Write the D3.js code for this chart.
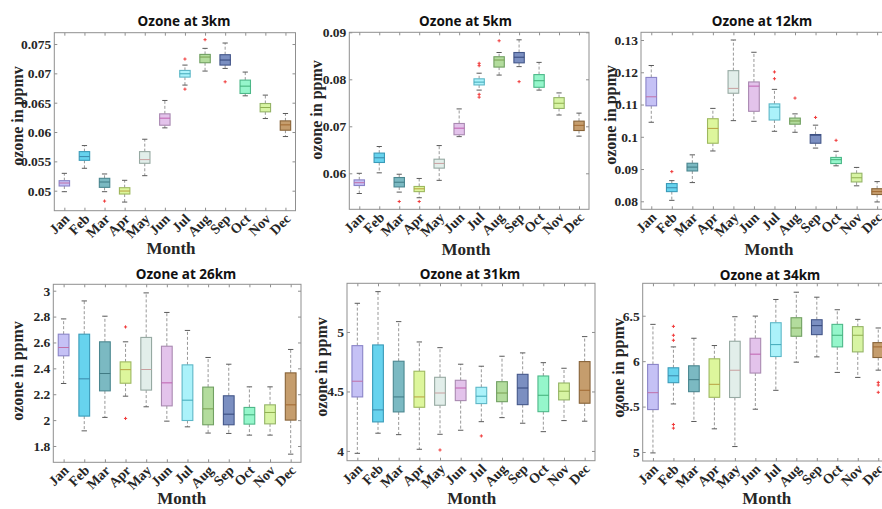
<!DOCTYPE html>
<html><head><meta charset="utf-8">
<script src="https://cdn.jsdelivr.net/npm/d3@7"></script>
<style>body{margin:0;background:#fff}svg{display:block}</style>
</head><body><svg id="c" width="882" height="509"></svg>
<script>
const months = ["Jan","Feb","Mar","Apr","May","Jun","Jul","Aug","Sep","Oct","Nov","Dec"];

// each row: [lower whisker, Q1, median, Q3, upper whisker]
const ozone3km = [
 [0.04983,0.0508,0.05131,0.05171,0.05296],
 [0.05382,0.05518,0.05581,0.05666,0.05769],
 [0.04983,0.05057,0.05148,0.05211,0.05285],
 [0.04806,0.04943,0.04994,0.05051,0.05177],
 [0.05256,0.05467,0.0553,0.05666,0.05877],
 [0.06071,0.06116,0.06236,0.0631,0.06538],
 [0.068,0.06936,0.06993,0.0705,0.07141],
 [0.07039,0.07181,0.07278,0.07323,0.07426],
 [0.07084,0.07141,0.07227,0.07318,0.07517],
 [0.06617,0.06657,0.06782,0.06885,0.07022],
 [0.0623,0.06344,0.06418,0.06486,0.06629],
 [0.05923,0.06031,0.06122,0.0619,0.06316]
];
const outliers3km = [[3,0.04823],[7,0.07244],[7,0.06731],[8,0.07574],[9,0.06856]];
const ticks3km = [0.05,0.055,0.06,0.065,0.07,0.075];
const tickLabels3km = ["0.05","0.055","0.06","0.065","0.07","0.075"];

const ozone5km = [
 [0.0557,0.0574,0.0580,0.0586,0.0600],
 [0.0601,0.0623,0.0633,0.0643,0.0657],
 [0.0560,0.0571,0.0581,0.0591,0.0598],
 [0.0548,0.0561,0.0567,0.0572,0.0589],
 [0.0585,0.0611,0.0621,0.0630,0.0659],
 [0.0678,0.0682,0.0696,0.0706,0.0737],
 [0.0777,0.0788,0.0794,0.0801,0.0813],
 [0.0809,0.0826,0.0841,0.0848,0.0857],
 [0.0827,0.0835,0.0847,0.0857,0.0884],
 [0.0777,0.0783,0.0797,0.0810,0.0836],
 [0.0724,0.0738,0.0749,0.0761,0.0771],
 [0.0679,0.0691,0.0702,0.0711,0.0728]
];
const outliers5km = [[3,0.0540],[4,0.0540],[7,0.0834],[7,0.0829],[7,0.0768],[7,0.0762],[8,0.0882],[9,0.0795]];
const ticks5km = [0.06,0.07,0.08,0.09];
const tickLabels5km = ["0.06","0.07","0.08","0.09"];

const ozone12km = [
 [0.1045,0.1096,0.1124,0.1184,0.1221],
 [0.0803,0.0830,0.0842,0.0855,0.0864],
 [0.0858,0.0894,0.0906,0.0918,0.0944],
 [0.0956,0.0980,0.1026,0.1056,0.1088],
 [0.1050,0.1135,0.1150,0.1205,0.1300],
 [0.1048,0.1079,0.1157,0.1170,0.1262],
 [0.1017,0.1052,0.1092,0.1102,0.1147],
 [0.1014,0.1039,0.1049,0.1058,0.1071],
 [0.0965,0.0980,0.1005,0.1007,0.1036],
 [0.0910,0.0917,0.0929,0.0936,0.0955],
 [0.0848,0.0860,0.0873,0.0887,0.0905],
 [0.0798,0.0821,0.0830,0.0839,0.0861]
];
const outliers12km = [[2,0.0892],[7,0.1201],[7,0.1180],[8,0.1120],[9,0.1060],[10,0.0989]];
const ticks12km = [0.08,0.09,0.1,0.11,0.12,0.13];
const tickLabels12km = ["0.08","0.09","0.1","0.11","0.12","0.13"];

const ozone26km = [
 [2.283,2.497,2.561,2.664,2.782],
 [1.917,2.031,2.319,2.664,2.921],
 [2.021,2.226,2.36,2.605,2.803],
 [2.185,2.285,2.39,2.45,2.605],
 [2.103,2.232,2.391,2.639,2.983],
 [1.992,2.110,2.288,2.571,2.832],
 [1.948,1.997,2.154,2.427,2.693],
 [1.90,1.964,2.087,2.255,2.484],
 [1.897,1.964,2.046,2.188,2.432],
 [1.884,1.969,2.041,2.098,2.257],
 [1.884,1.971,2.059,2.118,2.257],
 [1.737,2.0,2.118,2.365,2.546]
];
const outliers26km = [[4,2.72],[4,2.013]];
const ticks26km = [1.8,2,2.2,2.4,2.6,2.8,3];
const tickLabels26km = ["1.8","2","2.2","2.4","2.6","2.8","3"];

const ozone31km = [
 [3.98,4.454,4.586,4.885,5.241],
 [4.149,4.244,4.345,4.891,5.339],
 [4.137,4.328,4.454,4.754,5.087],
 [4.014,4.367,4.454,4.67,4.916],
 [4.140,4.384,4.487,4.619,4.868],
 [4.174,4.423,4.529,4.594,4.729],
 [4.246,4.398,4.46,4.535,4.712],
 [4.28,4.414,4.487,4.582,4.796],
 [4.233,4.389,4.529,4.644,4.824],
 [4.162,4.33,4.468,4.63,4.742],
 [4.255,4.429,4.502,4.571,4.695],
 [4.25,4.401,4.51,4.751,4.961]
];
const outliers31km = [[5,4.008],[7,4.126]];
const ticks31km = [4,4.5,5];
const tickLabels31km = ["4","4.5","5"];

const ozone34km = [
 [4.99,5.467,5.653,5.964,6.405],
 [5.529,5.763,5.839,5.927,6.157],
 [5.336,5.664,5.796,5.949,6.252],
 [5.255,5.602,5.745,6.026,6.172],
 [5.06,5.6,5.9,6.219,6.489],
 [5.471,5.869,6.077,6.252,6.496],
 [5.679,6.051,6.182,6.423,6.679],
 [5.989,6.274,6.365,6.478,6.759],
 [6.047,6.292,6.391,6.456,6.704],
 [5.876,6.157,6.285,6.405,6.566],
 [5.821,6.102,6.285,6.38,6.46],
 [5.901,6.04,6.157,6.204,6.365]
];
const outliers34km = [[2,6.383],[2,6.285],[2,6.23],[2,5.303],[2,5.263],[12,5.766],[12,5.737],[12,5.657]];
const ticks34km = [5,5.5,6,6.5];
const tickLabels34km = ["5","5.5","6","6.5"];

// styles
const fills  = ["#c5c1f5","#67d3ee","#7bb9c2","#ddf69c","#e2eeea","#e3c3eb","#abf2fa","#b3dc9d","#7b8fc1","#95f6cb","#d7f4a3","#c59d6d"];
const edges  = ["#8a84c8","#3a9bb8","#4b8790","#9db85f","#96a9a2","#a989b1","#5db7c7","#71a062","#44578a","#4db889","#95b467","#876338"];
const medCol = ["#c070a8","#3a88aa","#3f7a84","#b8a040","#c8a0a0","#c060b0","#40a8b8","#78a050","#34467a","#40b078","#90b050","#a06830"];

const panels = [
 {title:"Ozone at 3km", stats:ozone3km, out:outliers3km, ticks:ticks3km, labels:tickLabels3km, dom:[0.04659,0.07693],
  x0:54.3, x1:295.5, y0:32.7, y1:210.7, tx:184, ty:26, lx:17, ly:116, mx:171, my:254},
 {title:"Ozone at 5km", stats:ozone5km, out:outliers5km, ticks:ticks5km, labels:tickLabels5km, dom:[0.05234,0.09],
  x0:349.3, x1:589, y0:32.3, y1:209.3, tx:465.5, ty:26, lx:316, ly:110, mx:466, my:255},
 {title:"Ozone at 12km", stats:ozone12km, out:outliers12km, ticks:ticks12km, labels:tickLabels12km, dom:[0.07752,0.13239],
  x0:641, x1:887.4, y0:32.3, y1:209.3, tx:762, ty:26, lx:610, ly:115, mx:769, my:255},
 {title:"Ozone at 26km", stats:ozone26km, out:outliers26km, ticks:ticks26km, labels:tickLabels26km, dom:[1.674,3.0495],
  x0:53.3, x1:301, y0:284.3, y1:462.3, tx:186, ty:279, lx:17, ly:371, mx:181.7, my:504},
 {title:"Ozone at 31km", stats:ozone31km, out:outliers31km, ticks:ticks31km, labels:tickLabels31km, dom:[3.918,5.409],
  x0:347, x1:595, y0:283.3, y1:460.7, tx:470, ty:279, lx:321, ly:367, mx:471.7, my:504},
 {title:"Ozone at 34km", stats:ozone34km, out:outliers34km, ticks:ticks34km, labels:tickLabels34km, dom:[4.901,6.857],
  x0:642.7, x1:888.5, y0:283.3, y1:461, tx:770, ty:280, lx:618, ly:368, mx:766.7, my:504}
];

const svg = d3.select("#c");
const serif = "'Liberation Serif','Times New Roman',serif";
const sans = "'Noto Sans','Open Sans',sans-serif";
const axisCol = "#8f8f8f";

panels.forEach(p => {
  const x = d3.scaleLinear().domain([0.5, 12.5]).range([p.x0, p.x1]);
  const y = d3.scaleLinear().domain(p.dom).range([p.y1, p.y0]);
  const g = svg.append("g");
  const step = x(2) - x(1);
  const bw = step * 0.52;
  const cw = bw * 0.5;

  const yl = g.append("g").attr("transform", `translate(${p.x0},0)`)
    .call(d3.axisLeft(y).tickValues(p.ticks).tickFormat((d,i)=>p.labels[i]).tickSizeInner(-3).tickSizeOuter(0).tickPadding(3));
  const yr = g.append("g").attr("transform", `translate(${p.x1},0)`)
    .call(d3.axisRight(y).tickValues(p.ticks).tickFormat("").tickSizeInner(-3).tickSizeOuter(0));
  const xb = g.append("g").attr("transform", `translate(0,${p.y1})`)
    .call(d3.axisBottom(x).tickValues(d3.range(1,13)).tickFormat("").tickSizeInner(-3).tickSizeOuter(0));
  const xt = g.append("g").attr("transform", `translate(0,${p.y0})`)
    .call(d3.axisTop(x).tickValues(d3.range(1,13)).tickFormat("").tickSizeInner(-3).tickSizeOuter(0));
  [yl,yr,xb,xt].forEach(a => { a.select(".domain").remove(); a.selectAll("line").attr("stroke", axisCol); });
  yl.selectAll("text").attr("font-family", serif).attr("font-weight","bold").attr("font-size", 13.5).attr("fill","#262626");

  g.append("rect").attr("x", p.x0).attr("y", p.y0).attr("width", p.x1-p.x0).attr("height", p.y1-p.y0)
    .attr("fill","none").attr("stroke", axisCol).attr("stroke-width", 1);

  months.forEach((m,i) => {
    g.append("text").attr("transform", `translate(${x(i+1)+6},${p.y1+9}) rotate(-45)`)
      .attr("text-anchor","end").attr("font-family", serif).attr("font-weight","bold").attr("font-size", 14)
      .attr("fill","#262626").text(m);
  });

  p.stats.forEach((s,i) => {
    const cx = x(i+1);
    const [lo,q1,md,q3,hi] = s;
    g.append("line").attr("x1",cx).attr("x2",cx).attr("y1",y(q3)).attr("y2",y(hi))
      .attr("stroke","#8c8c8c").attr("stroke-dasharray","3,2").attr("stroke-width",0.9);
    g.append("line").attr("x1",cx).attr("x2",cx).attr("y1",y(q1)).attr("y2",y(lo))
      .attr("stroke","#8c8c8c").attr("stroke-dasharray","3,2").attr("stroke-width",0.9);
    [hi,lo].forEach(v => g.append("line").attr("x1",cx-cw/2).attr("x2",cx+cw/2).attr("y1",y(v)).attr("y2",y(v))
      .attr("stroke","#5a5a5a").attr("stroke-width",1));
    g.append("rect").attr("x",cx-bw/2).attr("width",bw).attr("y",y(q3)).attr("height",y(q1)-y(q3))
      .attr("fill",fills[i]).attr("stroke",edges[i]).attr("stroke-width",1.1);
    g.append("line").attr("x1",cx-bw/2).attr("x2",cx+bw/2).attr("y1",y(md)).attr("y2",y(md))
      .attr("stroke",medCol[i]).attr("stroke-width",1);
  });

  p.out.forEach(([mi,v]) => {
    const cx = x(mi), cy = y(v);
    g.append("path").attr("d",`M${cx-1.6},${cy}H${cx+1.6}M${cx},${cy-1.6}V${cy+1.6}`)
      .attr("stroke","#f03a3a").attr("stroke-width",1);
  });

  g.append("text").attr("x",p.tx).attr("y",p.ty).attr("text-anchor","middle")
    .attr("font-family",sans).attr("font-weight","bold").attr("font-size",13.5).attr("fill","#111").text(p.title);
  g.append("text").attr("transform",`translate(${p.lx},${p.ly}) rotate(-90)`).attr("text-anchor","middle")
    .attr("dy","0.35em").attr("font-family",serif).attr("font-weight","bold").attr("font-size",16).attr("fill","#262626")
    .text("ozone in ppmv");
  g.append("text").attr("x",p.mx).attr("y",p.my).attr("text-anchor","middle")
    .attr("font-family",serif).attr("font-weight","bold").attr("font-size",17).attr("fill","#262626").text("Month");
});
</script></body></html>
